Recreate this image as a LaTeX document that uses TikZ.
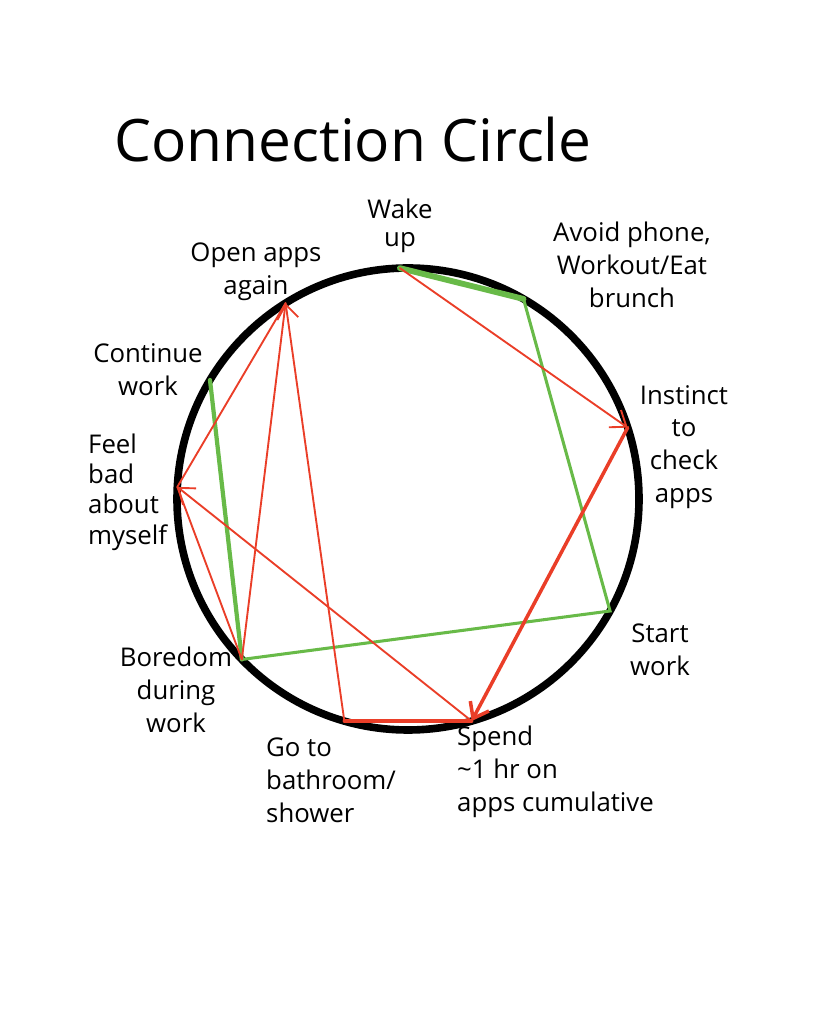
\documentclass[tikz,border=0pt]{standalone}
\usepackage{fontspec}
\setmainfont{Open Sans}
\usetikzlibrary{calc,arrows.meta}
\definecolor{penred}{RGB}{234,62,40}
\definecolor{pengreen}{RGB}{104,186,72}
\tikzset{
  redlink/.style={draw=penred, line width=1.6pt, line cap=round},
  redbold/.style={redlink, line width=3pt},
  greenlink/.style={draw=pengreen, line width=2.6pt, line cap=round},
  greenbold/.style={greenlink, line width=5pt},
  barbtip/.style={-{Straight Barb[length=12pt,width=18pt]}},
  lbl/.style={font=\fontsize{22}{28}\selectfont, align=center, inner sep=0pt},
}
\begin{document}
\begin{tikzpicture}[x=0.3mm,y=0.3mm]
\useasboundingbox (0,0) rectangle (817,1024);
\node[font=\fontsize{50}{60}\selectfont, inner sep=0pt] (title) at (353,884) {Connection Circle};

\coordinate (c) at (408,525);
\draw[line width=6.5pt] (c) circle (231);
\coordinate (wake) at ($(c)+(92:231)$);
\coordinate (avoid) at ($(c)+(60:231)$);
\coordinate (instinct) at ($(c)+(18:231)$);
\coordinate (startw) at ($(c)+(-29:231)$);
\coordinate (spend) at ($(c)+(-74:231)$);
\coordinate (shower) at ($(c)+(-106:231)$);
\coordinate (boredom) at ($(c)+(-136:231)$);
\coordinate (feelbad) at ($(c)+(177:231)$);
\coordinate (contw) at ($(c)+(149:231)$);
\coordinate (openapps) at ($(c)+(122:231)$);

% balancing loop
\draw[greenbold] (wake)--(avoid);
\draw[greenlink] (avoid)--(startw)--(boredom);
\draw[greenlink, line width=3.6pt] (boredom)--(contw);

% reinforcing loop
\draw[redlink, barbtip] (wake)--(instinct);
\draw[redbold, barbtip] (instinct)--(spend);
\draw[redlink, barbtip] (spend)--(feelbad);
\draw[redlink] (feelbad)--(openapps);
\draw[redlink] (feelbad)--(boredom);
\draw[redlink] (boredom)--(openapps);
\draw[redlink, barbtip] (shower)--(openapps);
\draw[redbold] (shower)--(spend);

\node[lbl, font=\fontsize{22}{24}\selectfont] (lwake) at (400,798) {Wake\\up};
\node[lbl] (lavoid) at (632,759) {Avoid phone,\\Workout/Eat\\brunch};
\node[lbl] (linstinct) at (684,577) {Instinct\\to\\check\\apps};
\node[lbl] (lstart) at (660,374) {Start\\work};
\node[lbl, anchor=west, align=left] (lspend) at (457,252) {Spend\\\textasciitilde1 hr on\\apps cumulative};
\node[lbl, anchor=west, align=left] (lshower) at (266,244) {Go to\\bathroom/\\shower};
\node[lbl] (lboredom) at (176,334) {Boredom\\during\\work};
\node[lbl, anchor=west, align=left, font=\fontsize{22}{26}\selectfont] (lfeelbad) at (88,532) {Feel\\bad\\about\\myself};
\node[lbl] (lcontw) at (148,654) {Continue\\work};
\node[lbl] (lopenapps) at (256,752) {Open apps\\again};
\end{tikzpicture}
\end{document}
